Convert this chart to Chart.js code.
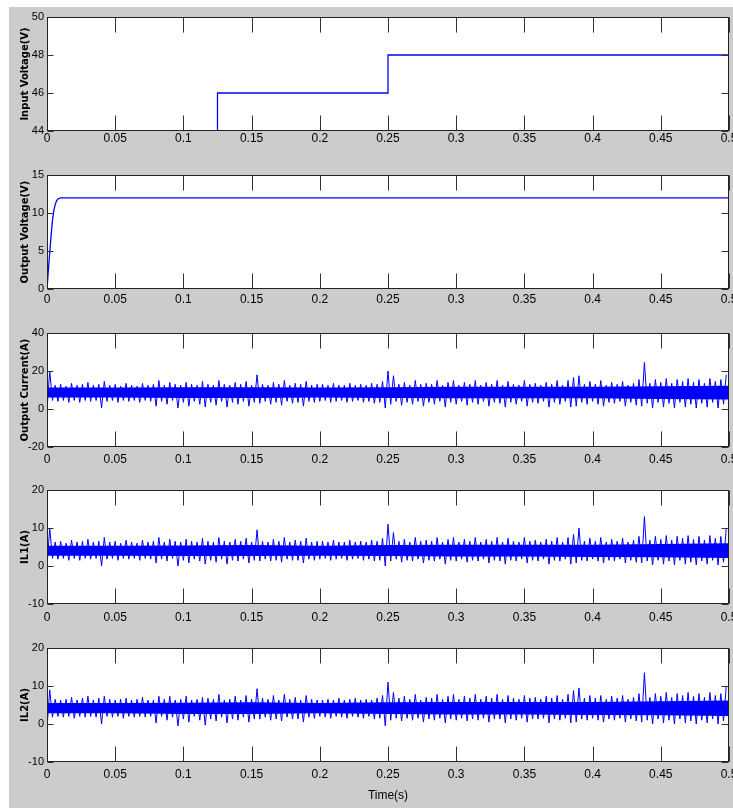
<!DOCTYPE html>
<html>
<head>
<meta charset="utf-8">
<script src="https://cdn.jsdelivr.net/npm/chart.js@4.4.1/dist/chart.umd.min.js"></script>
<style>
  html, body { margin: 0; padding: 0; background: #ffffff; width: 733px; height: 808px; overflow: hidden; }
  #fig { position: absolute; left: 9px; top: 7px; right: 0; bottom: 0; background: #cccccc; }
  canvas { position: absolute; left: 0; }
</style>
</head>
<body>
<div id="fig"></div>
<script>
// ---------------- DATA ----------------
const xTickValues = [0, 0.05, 0.1, 0.15, 0.2, 0.25, 0.3, 0.35, 0.4, 0.45, 0.5];
const xTickLabels = ['0', '0.05', '0.1', '0.15', '0.2', '0.25', '0.3', '0.35', '0.4', '0.45', '0.5'];

// Panel 1: input voltage (step changes)
const inTime = [0, 0.125, 0.125, 0.25, 0.25, 0.5, 0.5];
const inVolt = [44, 44, 46, 46, 48, 48, 50];
const inTicks = [44, 46, 48, 50];

// Panel 2: output voltage (start-up then regulated)
const outTime = [0, 0.001, 0.002, 0.003, 0.004, 0.005, 0.006, 0.007, 0.008, 0.01, 0.5];
const outVolt = [0, 2.5, 4.8, 7, 9, 10.3, 11.1, 11.6, 11.85, 12, 12];
const outTicks = [0, 5, 10, 15];

// Dense core of the ripple band, sampled every 0.05 s
const coreTime = [0, 0.05, 0.1, 0.15, 0.2, 0.25, 0.3, 0.35, 0.4, 0.45, 0.5];
const ioCoreHigh = [11.3, 11.3, 11.5, 11.5, 11.3, 11.5, 11.7, 11.7, 11.7, 12, 12.2];
const ioCoreLow = [6, 6, 5.8, 5.8, 6, 5.8, 5.6, 5.6, 5.6, 5.3, 5];
const il1CoreHigh = [5.3, 5.3, 5.4, 5.5, 5.3, 5.5, 5.6, 5.6, 5.6, 5.8, 6];
const il1CoreLow = [2.7, 2.7, 2.6, 2.6, 2.7, 2.6, 2.5, 2.5, 2.4, 2.3, 2.1];
const il2CoreHigh = [5.5, 5.5, 5.6, 5.7, 5.5, 5.7, 5.8, 5.8, 5.8, 6, 6.2];
const il2CoreLow = [2.8, 2.8, 2.6, 2.6, 2.8, 2.6, 2.5, 2.5, 2.4, 2.3, 2.1];

// Ripple excursions, one value per 0.004 s bin (upper / lower)
const binWidth = 0.004;

const ioHigh = [
  20, 12.5, 13, 12, 13.5, 12.5, 13, 14, 12.5, 13,
  14.5, 12.5, 13, 12, 13.5, 12.5, 12, 13.5, 12.5, 13,
  15, 12.5, 14, 13, 12.5, 14, 13, 12.5, 14.5, 13,
  12.5, 15, 13, 12.5, 14, 13, 14.5, 12.5, 18, 13,
  12.5, 14, 13, 15, 12.5, 13.5, 13, 14.5, 12.5, 13,
  13, 12.5, 13.5, 12.5, 12.5, 13.5, 12.5, 13, 12.5, 13.5,
  13, 14.5, 20, 17.5, 13, 14, 12.5, 15, 13, 13.5,
  13, 15, 12.5, 14, 15, 12.5, 14, 13, 15, 12.5,
  14, 13, 15, 12.5, 14.5, 13, 12.5, 15, 13, 13.5,
  12.5, 14, 13, 15, 12.5, 15, 16.5, 17.5, 13, 14.5,
  13, 15, 12.5, 14, 13, 14.5, 12.5, 13.5, 15.5, 24.5,
  13.5, 15.5, 14, 16, 13.5, 15.5, 14.5, 16, 14, 15.5,
  13.5, 16, 14.5, 15.5, 18
];
const ioLow = [
  0, 4.5, 4, 4.5, 3.5, 4.5, 3.5, 4.5, 4, 4.5,
  0.5, 4, 4.5, 3.5, 4.5, 4, 4.5, 3.5, 4.5, 4,
  1.5, 4, 2.5, 4.5, 0.5, 3.5, 1.5, 4, 2.5, 1,
  3.5, 2, 4, 1, 3.5, 2.5, 4, 1.5, 3.5, 3,
  4, 2.5, 3.5, 2, 4, 3, 3.5, 1.5, 4, 3.5,
  4, 4.5, 3.5, 4, 4.5, 3.5, 4, 4.5, 3.5, 4,
  3, 3.5, 0.5, 2.5, 4, 2, 3.5, 2.5, 4, 1.5,
  3.5, 2.5, 4, 1, 3.5, 2.5, 4, 2, 3.5, 2.5,
  4, 1.5, 3.5, 3, 1, 3.5, 2.5, 4, 1.5, 3.5,
  3, 4, 1, 3.5, 2.5, 4, 1, 1.5, 3.5, 2.5,
  4, 2.5, 1.5, 3.5, 3, 4, 1.5, 3.5, 2, 1.5,
  3, 0.5, 3.5, 1, 3, 0.5, 3.5, 1, 2.5, 0.5,
  3, 1, 3.5, 0.5, 2.5
];
const ioTicks = [-20, 0, 20, 40];

const il1High = [
  10, 6.3, 6.5, 6, 6.8, 6.3, 6.5, 7, 6.3, 6.5,
  7.5, 6.3, 6.5, 6, 6.8, 6.3, 6, 6.8, 6.3, 6.5,
  7.5, 6.3, 7, 6.5, 6.3, 7, 6.5, 6.3, 7.3, 6.5,
  6.3, 7.5, 6.5, 6.3, 7, 6.5, 7.3, 6.3, 9.5, 6.5,
  6.3, 7, 6.5, 7.5, 6.3, 6.8, 6.5, 7.3, 6.3, 6.5,
  6.5, 6.3, 6.8, 6.3, 6.3, 6.8, 6.3, 6.5, 6.3, 6.8,
  6.5, 7.3, 11, 8.8, 6.5, 7, 6.3, 7.5, 6.5, 6.8,
  6.5, 7.5, 6.3, 7, 7.5, 6.3, 7, 6.5, 7.5, 6.3,
  7, 6.5, 7.5, 6.3, 7.3, 6.5, 6.3, 7.5, 6.5, 6.8,
  6.3, 7, 6.5, 7.5, 6.3, 7.5, 8.3, 10, 6.5, 7.3,
  6.5, 7.5, 6.3, 7, 6.5, 7.3, 6.3, 6.8, 7.8, 13,
  6.8, 7.8, 7, 8, 6.8, 7.8, 7.3, 8, 7, 7.8,
  6.8, 8, 7.3, 7.8, 10
];
const il1Low = [
  0, 2, 1.8, 2, 1.5, 2, 1.5, 2, 1.8, 2,
  0, 1.8, 2, 1.5, 2, 1.8, 2, 1.5, 2, 1.8,
  0.8, 1.8, 1.3, 2, 0, 1.5, 0.8, 1.8, 1.3, 0.5,
  1.5, 1, 1.8, 0.5, 1.5, 1.3, 1.8, 0.8, 1.5, 1.3,
  1.8, 1.3, 1.5, 1, 1.8, 1.5, 1.5, 0.8, 1.8, 1.5,
  1.8, 2, 1.5, 1.8, 2, 1.5, 1.8, 2, 1.5, 1.8,
  1.3, 1.5, 0, 1.3, 1.8, 1, 1.5, 1.3, 1.8, 0.8,
  1.5, 1.3, 1.8, 0.5, 1.5, 1.3, 1.8, 1, 1.5, 1.3,
  1.8, 0.8, 1.5, 1.3, 0.5, 1.5, 1.3, 1.8, 0.8, 1.5,
  1.3, 1.8, 0.5, 1.5, 1.3, 1.8, 0.5, 0.8, 1.5, 1.3,
  1.8, 1.3, 0.8, 1.5, 1.3, 1.8, 0.8, 1.5, 1, 0.8,
  1.3, 0.3, 1.5, 0.5, 1.3, 0.3, 1.5, 0.5, 1, 0.3,
  1.3, 0.5, 1.5, 0.3, 1
];
const il1Ticks = [-10, 0, 10, 20];

const il2High = [
  9, 6.5, 6.3, 6.5, 7, 6.3, 6.8, 7.3, 6.3, 6.8,
  7.3, 6.5, 6.3, 6.5, 6.8, 6.3, 6.5, 7, 6.3, 6.3,
  7.3, 6.5, 7.3, 6.3, 6.5, 7.3, 6.3, 6.5, 7, 6.8,
  6.5, 7.8, 6.3, 6.5, 7.3, 6.3, 7.5, 6.5, 9.3, 6.8,
  6.5, 7.5, 6.3, 7.8, 6.5, 7, 6.3, 7.5, 6.5, 6.3,
  6.3, 6.5, 6.3, 6.8, 6.3, 6.5, 6.8, 6.3, 6.5, 6.3,
  6.8, 7.5, 11, 8.3, 6.8, 7.3, 6.5, 7.8, 6.3, 7,
  6.8, 7.8, 6.5, 7.3, 7.8, 6.5, 7.3, 6.8, 7.8, 6.5,
  7.3, 6.8, 7.8, 6.5, 7.5, 6.8, 6.5, 7.5, 6.8, 7,
  6.5, 7.3, 6.8, 7.5, 6.5, 7.8, 8.8, 9.5, 6.8, 7.5,
  6.8, 7.5, 6.5, 7.3, 6.8, 7.5, 6.5, 7, 8, 13.5,
  7, 8, 7.3, 8.3, 7, 8, 7.5, 8.3, 7.3, 8,
  7, 8.3, 7.5, 8, 10
];
const il2Low = [
  -1, 1.8, 2, 1.8, 2, 1.5, 2, 1.8, 2, 1.8,
  0, 2, 1.8, 2, 1.5, 2, 1.8, 2, 1.8, 2,
  0.3, 2, 1, 1.8, -0.5, 1.3, 0.5, 2, 1, -0.3,
  1.3, 0.8, 1.8, 0.3, 1.3, 1, 1.8, 0.5, 1.3, 1.3,
  1.8, 1, 1.3, 0.8, 1.8, 1.3, 1.3, 0.5, 1.8, 1.5,
  2, 1.8, 1.5, 2, 1.8, 1.5, 2, 1.8, 1.5, 2,
  1.3, 1.5, -0.5, 1, 1.5, 0.8, 1.5, 1, 1.5, 0.5,
  1.3, 1, 1.5, 0.3, 1.3, 1, 1.5, 0.8, 1.3, 1,
  1.5, 0.5, 1.3, 1.3, 0.3, 1.3, 1, 1.5, 0.5, 1.3,
  1.3, 1.5, 0.3, 1.3, 1, 1.5, 0.3, 0.5, 1.3, 1,
  1.5, 1, 0.5, 1.3, 1, 1.5, 0.5, 1.3, 0.8, 0.5,
  1, 0, 1.3, 0.3, 1, 0, 1.3, 0.3, 0.8, 0,
  1, 0.3, 1.3, 0, 0.8
];
const il2Ticks = [-10, 0, 10, 20];

// ---------------- BUILD ----------------
function pairs(xs, ys) { return xs.map((x, i) => ({ x: x, y: ys[i] })); }
function envelope(high, low) {
  const pts = [];
  for (let i = 0; i < high.length; i++) {
    pts.push({ x: i * binWidth, y: low[i] });
    pts.push({ x: i * binWidth + binWidth / 2, y: high[i] });
  }
  return pts;
}

const BLUE = '#0000ff';
const tickFont = { family: "'Liberation Sans', Arial, sans-serif", size: 12 };
const yTickFont = { family: "'Liberation Sans', Arial, sans-serif", size: 11 };
const titleFont = { family: "'DejaVu Sans', sans-serif", size: 10, weight: 'bold' };

const matlabAxes = {
  id: 'matlabAxes',
  beforeDraw(chart) {
    const a = chart.chartArea, ctx = chart.ctx;
    ctx.save();
    ctx.fillStyle = '#ffffff';
    ctx.fillRect(a.left, a.top, a.right - a.left, a.bottom - a.top);
    ctx.restore();
  },
  afterDraw(chart) {
    const a = chart.chartArea, ctx = chart.ctx;
    const xs = chart.scales.x, ys = chart.scales.y;
    const L = Math.round(a.left) + 0.5, R = Math.round(a.right) - 0.5;
    const T = Math.round(a.top) + 0.5, B = Math.round(a.bottom) - 0.5;
    ctx.save();
    ctx.strokeStyle = '#333333';
    ctx.lineWidth = 1;
    ctx.beginPath();
    xTickValues.forEach(v => {
      const px = Math.round(xs.getPixelForValue(v)) + 0.5;
      ctx.moveTo(px, B); ctx.lineTo(px, B - 15);
      ctx.moveTo(px, T); ctx.lineTo(px, T + 15);
    });
    ys.ticks.forEach(t => {
      const py = Math.round(ys.getPixelForValue(t.value)) + 0.5;
      ctx.moveTo(L, py); ctx.lineTo(L + 6, py);
      ctx.moveTo(R, py); ctx.lineTo(R - 7, py);
    });
    ctx.stroke();
    ctx.strokeStyle = '#222222';
    ctx.strokeRect(L, T, R - L, B - T);
    ctx.restore();
  }
};

function lineDs(data, lw) {
  return { data: data, borderColor: BLUE, borderWidth: lw, pointRadius: 0, tension: 0, fill: false };
}
function noiseSets(high, low, coreHigh, coreLow) {
  return [
    lineDs(envelope(high, low), 1),
    { data: pairs(coreTime, coreHigh), borderWidth: 0, borderColor: BLUE, backgroundColor: BLUE, pointRadius: 0, fill: '+1' },
    { data: pairs(coreTime, coreLow), borderWidth: 0, borderColor: BLUE, pointRadius: 0, fill: false }
  ];
}

const panels = [
  { top: 17, sets: [lineDs(pairs(inTime, inVolt), 1.3)], ticks: inTicks, title: 'Input Voltage(V)', lpad: 0 },
  { top: 175, sets: [lineDs(pairs(outTime, outVolt), 1.3)], ticks: outTicks, title: 'Output Voltage(V)', lpad: 3 },
  { top: 333, sets: noiseSets(ioHigh, ioLow, ioCoreHigh, ioCoreLow), ticks: ioTicks, title: 'Output Current(A)', lpad: 5 },
  { top: 490, sets: noiseSets(il1High, il1Low, il1CoreHigh, il1CoreLow), ticks: il1Ticks, title: 'IL1(A)', lpad: 6 },
  { top: 648, sets: noiseSets(il2High, il2Low, il2CoreHigh, il2CoreLow), ticks: il2Ticks, title: 'IL2(A)', lpad: 5, xTitle: 'Time(s)' }
];

const PLOT_H = 114, PAD_TOP = 10;

panels.forEach((p, idx) => {
  const isLast = idx === panels.length - 1;
  const xAxisH = isLast ? 46 : 26;
  const h = PAD_TOP + PLOT_H + xAxisH;
  const cv = document.createElement('canvas');
  cv.width = 733; cv.height = h;
  cv.style.top = (p.top - PAD_TOP) + 'px';
  cv.style.width = '733px'; cv.style.height = h + 'px';
  document.body.appendChild(cv);

  new Chart(cv, {
    type: 'line',
    data: { datasets: p.sets },
    options: {
      responsive: false,
      animation: false,
      devicePixelRatio: 1,
      layout: { padding: { top: PAD_TOP, right: 4, left: 0, bottom: 0 } },
      plugins: { legend: { display: false }, tooltip: { enabled: false } },
      scales: {
        x: {
          type: 'linear', min: 0, max: 0.5,
          grid: { display: false, drawTicks: false },
          border: { display: false },
          afterBuildTicks: s => { s.ticks = xTickValues.map(v => ({ value: v })); },
          afterFit: s => { s.height = xAxisH; s.paddingLeft = 0; s.paddingRight = 0; },
          ticks: {
            autoSkip: false, maxRotation: 0, padding: p.lpad,
            color: '#000000', font: tickFont,
            callback: (v, i) => xTickLabels[i]
          },
          title: {
            display: !!p.xTitle, text: p.xTitle || '',
            color: '#000000', font: tickFont,
            padding: { top: 0, bottom: 5 }
          }
        },
        y: {
          type: 'linear', min: p.ticks[0], max: p.ticks[p.ticks.length - 1],
          grid: { display: false, drawTicks: false },
          border: { display: false },
          afterBuildTicks: s => { s.ticks = p.ticks.map(v => ({ value: v })); },
          afterFit: s => { s.width = 47; s.paddingTop = 0; s.paddingBottom = 0; },
          ticks: { padding: 3, color: '#000000', font: yTickFont, callback: v => String(v) },
          title: {
            display: true, text: p.title, color: '#000000', font: titleFont,
            padding: { top: 19, bottom: 0 }
          }
        }
      }
    },
    plugins: [matlabAxes]
  });
});
</script>
</body>
</html>
